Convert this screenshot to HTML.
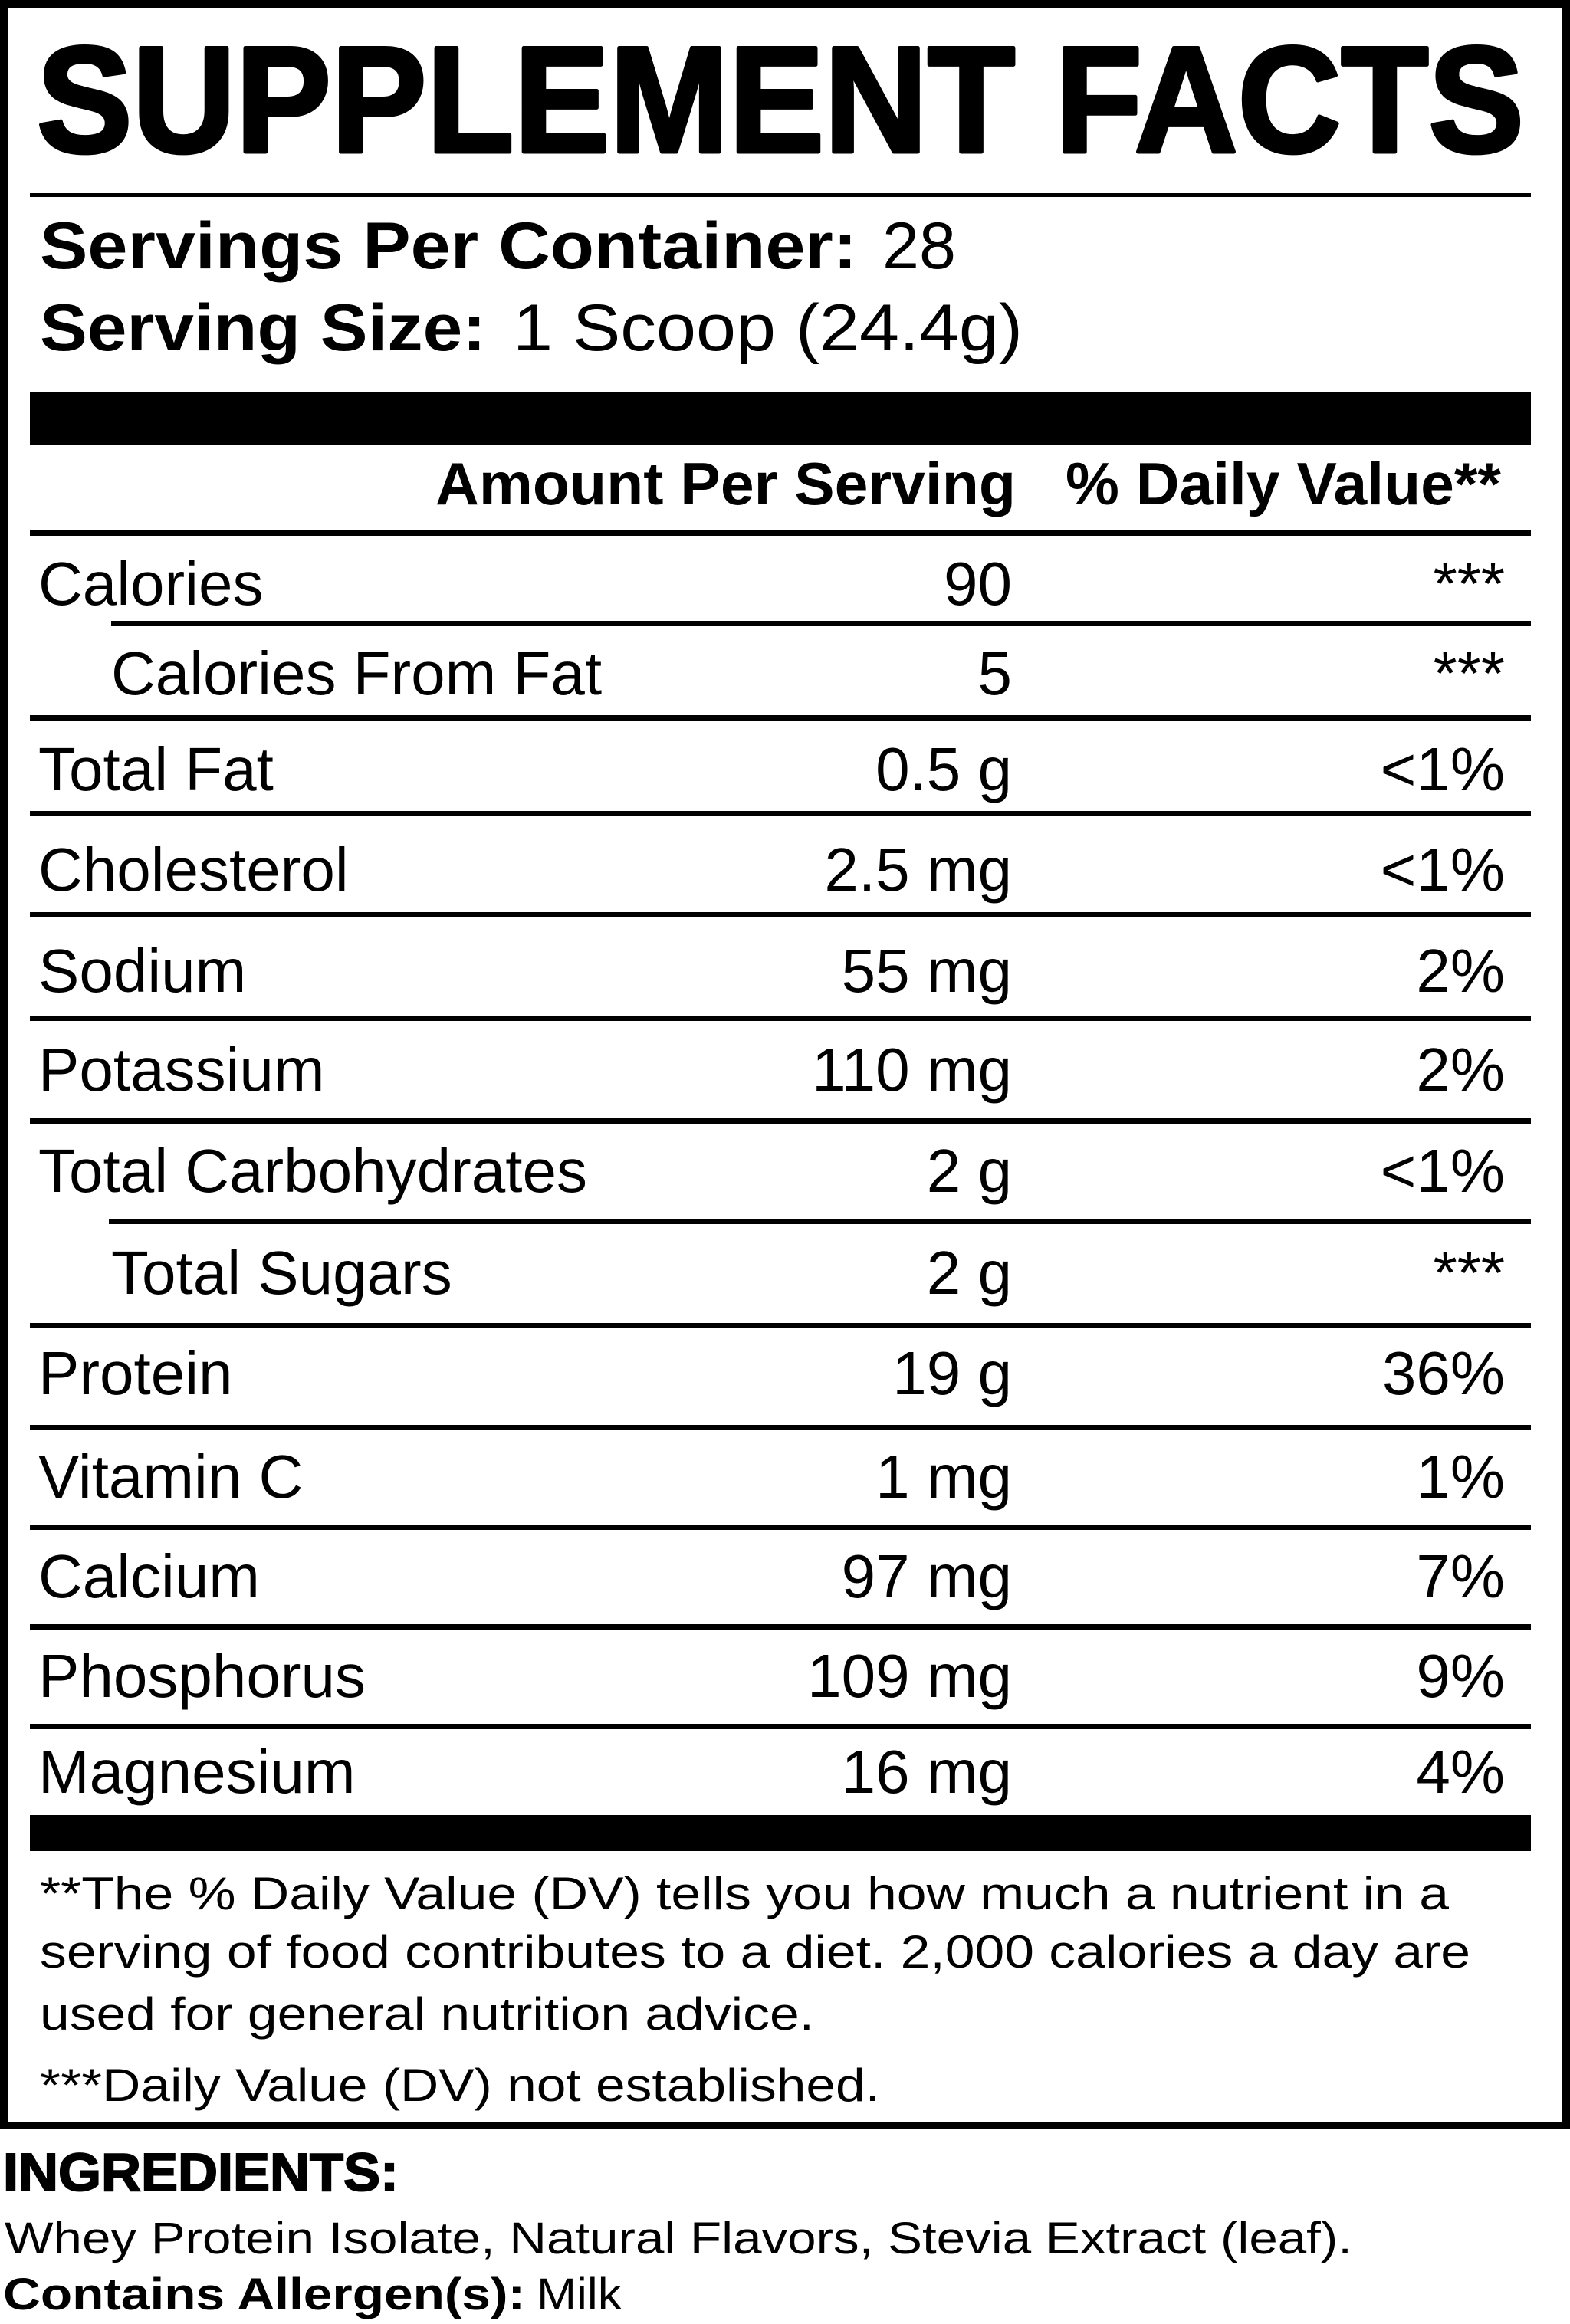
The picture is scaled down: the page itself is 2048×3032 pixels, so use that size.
<!DOCTYPE html>
<html><head><meta charset="utf-8"><style>
html,body{margin:0;padding:0;background:#fff}
svg{display:block}
text{font-family:"Liberation Sans",Arial,sans-serif;fill:#000}
.b{font-weight:bold}
.r{font-size:80px}
.v{font-size:80px;text-anchor:end}
.f{font-size:60px}
</style></head><body>
<svg width="2048" height="3032" viewBox="0 0 2048 3032" xmlns="http://www.w3.org/2000/svg">
<rect x="5" y="5" width="2038" height="2768" fill="none" stroke="#000" stroke-width="10"/>
<text x="48" y="198" class="b" font-size="197" stroke="#000" stroke-width="5" stroke-linejoin="round" textLength="1940" lengthAdjust="spacingAndGlyphs">SUPPLEMENT FACTS</text>
<rect x="39" y="252" width="1958" height="5" fill="#000"/>
<text x="52" y="350" font-size="86"><tspan class="b" textLength="1066" lengthAdjust="spacingAndGlyphs">Servings Per Container:</tspan><tspan x="1151" textLength="96" lengthAdjust="spacingAndGlyphs">28</tspan></text>
<text x="52" y="457" font-size="86"><tspan class="b" textLength="582" lengthAdjust="spacingAndGlyphs">Serving Size:</tspan><tspan x="669" textLength="665" lengthAdjust="spacingAndGlyphs">1 Scoop (24.4g)</tspan></text>
<rect x="39" y="512" width="1958" height="68" fill="#000"/>
<text x="568" y="658" class="b" font-size="78" textLength="757" lengthAdjust="spacingAndGlyphs">Amount Per Serving</text>
<text x="1390" y="658" class="b" font-size="78" textLength="568" lengthAdjust="spacingAndGlyphs">% Daily Value**</text>
<rect x="39" y="692" width="1958" height="7" fill="#000"/>
<g fill="#000">
<rect x="145" y="810" width="1852" height="7"/>
<rect x="39" y="933" width="1958" height="7"/>
<rect x="39" y="1058" width="1958" height="7"/>
<rect x="39" y="1190" width="1958" height="7"/>
<rect x="39" y="1325" width="1958" height="7"/>
<rect x="39" y="1459" width="1958" height="7"/>
<rect x="142" y="1590" width="1855" height="7"/>
<rect x="39" y="1726" width="1958" height="7"/>
<rect x="39" y="1859" width="1958" height="7"/>
<rect x="39" y="1989" width="1958" height="7"/>
<rect x="39" y="2119" width="1958" height="7"/>
<rect x="39" y="2249" width="1958" height="7"/>
<rect x="39" y="2368" width="1958" height="47"/>
</g>
<text x="50" y="789" class="r">Calories</text><text x="1320" y="789" class="v">90</text><text x="1963" y="789" class="v">***</text>
<text x="145" y="906" class="r">Calories From Fat</text><text x="1320" y="906" class="v">5</text><text x="1963" y="906" class="v">***</text>
<text x="50" y="1031" class="r">Total Fat</text><text x="1320" y="1031" class="v">0.5 g</text><text x="1963" y="1031" class="v">&lt;1%</text>
<text x="50" y="1162" class="r">Cholesterol</text><text x="1320" y="1162" class="v">2.5 mg</text><text x="1963" y="1162" class="v">&lt;1%</text>
<text x="50" y="1294" class="r">Sodium</text><text x="1320" y="1294" class="v">55 mg</text><text x="1963" y="1294" class="v">2%</text>
<text x="50" y="1423" class="r">Potassium</text><text x="1320" y="1423" class="v">110 mg</text><text x="1963" y="1423" class="v">2%</text>
<text x="50" y="1555" class="r">Total Carbohydrates</text><text x="1320" y="1555" class="v">2 g</text><text x="1963" y="1555" class="v">&lt;1%</text>
<text x="145" y="1688" class="r">Total Sugars</text><text x="1320" y="1688" class="v">2 g</text><text x="1963" y="1688" class="v">***</text>
<text x="50" y="1819" class="r">Protein</text><text x="1320" y="1819" class="v">19 g</text><text x="1963" y="1819" class="v">36%</text>
<text x="50" y="1954" class="r">Vitamin C</text><text x="1320" y="1954" class="v">1 mg</text><text x="1963" y="1954" class="v">1%</text>
<text x="50" y="2084" class="r">Calcium</text><text x="1320" y="2084" class="v">97 mg</text><text x="1963" y="2084" class="v">7%</text>
<text x="50" y="2214" class="r">Phosphorus</text><text x="1320" y="2214" class="v">109 mg</text><text x="1963" y="2214" class="v">9%</text>
<text x="50" y="2339" class="r">Magnesium</text><text x="1320" y="2339" class="v">16 mg</text><text x="1963" y="2339" class="v">4%</text>
<text x="52" y="2491" class="f" textLength="1838" lengthAdjust="spacingAndGlyphs">**The % Daily Value (DV) tells you how much a nutrient in a</text>
<text x="52" y="2567" class="f" textLength="1866" lengthAdjust="spacingAndGlyphs">serving of food contributes to a diet. 2,000 calories a day are</text>
<text x="52" y="2648" class="f" textLength="1010" lengthAdjust="spacingAndGlyphs">used for general nutrition advice.</text>
<text x="52" y="2741" class="f" textLength="1096" lengthAdjust="spacingAndGlyphs">***Daily Value (DV) not established.</text>
<text x="4" y="2858" class="b" font-size="70" stroke="#000" stroke-width="2" textLength="516" lengthAdjust="spacingAndGlyphs">INGREDIENTS:</text>
<text x="6" y="2940" font-size="58" textLength="1758" lengthAdjust="spacingAndGlyphs">Whey Protein Isolate, Natural Flavors, Stevia Extract (leaf).</text>
<text x="4" y="3013" font-size="58"><tspan class="b" textLength="681" lengthAdjust="spacingAndGlyphs">Contains Allergen(s):</tspan><tspan x="700" textLength="111" lengthAdjust="spacingAndGlyphs">Milk</tspan></text>
</svg>
</body></html>
